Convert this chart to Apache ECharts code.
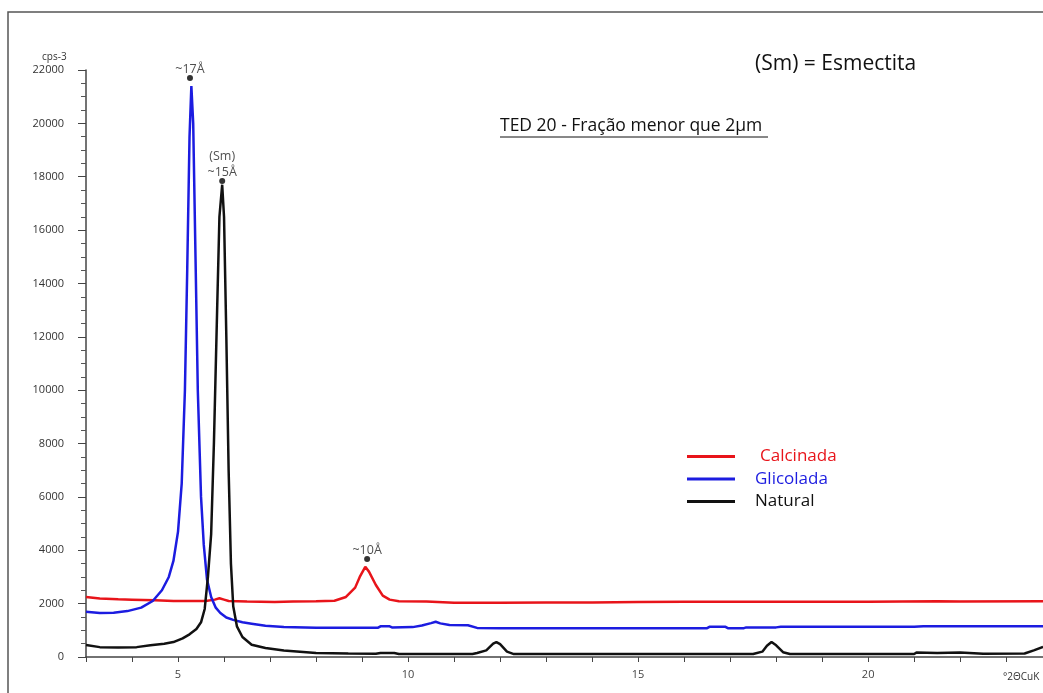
<!DOCTYPE html>
<html>
<head>
<meta charset="utf-8">
<style>
  html, body { margin: 0; padding: 0; background: #fff; }
  #chart { width: 1043px; height: 693px; }
</style>
<script src="https://cdn.jsdelivr.net/npm/echarts@6/dist/echarts.min.js"></script>
</head>
<body>
<div id="chart"></div>
<script>
// difratograma TED 20, pares [°2θ, contagens]
const calcinada = [
  [3.0, 2250], [3.3, 2190], [3.7, 2160], [4.0, 2150], [4.5, 2130], [4.9, 2100],
  [5.6, 2100], [5.8, 2150], [5.9, 2200], [6.0, 2150], [6.1, 2100], [6.5, 2080],
  [7.1, 2060], [7.5, 2080], [8.0, 2090], [8.4, 2110], [8.65, 2250], [8.85, 2600],
  [8.95, 3000], [9.07, 3380], [9.15, 3200], [9.3, 2700], [9.45, 2300], [9.6, 2150],
  [9.8, 2090], [10.4, 2080], [11.0, 2030], [12.0, 2030], [13.0, 2040], [14.0, 2040],
  [15.0, 2060], [16.0, 2070], [20.0, 2070], [21.5, 2090], [22.0, 2080], [23.8, 2090]
];
const glicolada = [
  [3.0, 1700], [3.3, 1650], [3.6, 1660], [3.9, 1720], [4.2, 1850], [4.45, 2100],
  [4.65, 2500], [4.8, 3000], [4.9, 3600], [5.0, 4700], [5.08, 6500], [5.15, 10000],
  [5.2, 14500], [5.25, 19500], [5.29, 21400], [5.33, 20000], [5.38, 15000],
  [5.43, 10000], [5.5, 6000], [5.56, 4200], [5.63, 2900], [5.72, 2250], [5.82, 1850],
  [5.92, 1650], [6.05, 1480], [6.2, 1390], [6.4, 1300], [6.6, 1250], [6.9, 1170],
  [7.3, 1120], [8.0, 1100], [9.35, 1100], [9.4, 1150], [9.6, 1150], [9.65, 1110],
  [10.1, 1120], [10.3, 1180], [10.5, 1270], [10.6, 1320], [10.7, 1260], [10.9, 1200],
  [11.3, 1190], [11.5, 1090], [12.0, 1080], [15.0, 1080], [16.5, 1080], [16.55, 1130],
  [16.9, 1130], [16.95, 1080], [17.3, 1080], [17.35, 1110], [18.0, 1110],
  [18.1, 1130], [21.0, 1130], [21.2, 1150], [23.8, 1150]
];
const natural = [
  [3.0, 450], [3.3, 370], [3.7, 360], [4.1, 370], [4.4, 440], [4.7, 500], [4.9, 560],
  [5.1, 700], [5.25, 850], [5.4, 1050], [5.5, 1300], [5.58, 1800], [5.65, 3000],
  [5.72, 4600], [5.78, 8000], [5.85, 13000], [5.9, 16500], [5.96, 17700], [6.0, 16500],
  [6.05, 12000], [6.1, 7000], [6.15, 3500], [6.2, 1900], [6.28, 1150], [6.4, 750],
  [6.6, 460], [6.9, 340], [7.3, 240], [8.0, 150], [8.7, 130], [9.3, 120], [9.4, 150],
  [9.7, 150], [9.8, 110], [11.4, 110], [11.5, 150], [11.7, 250], [11.85, 500],
  [11.92, 560], [12.0, 480], [12.15, 200], [12.3, 110], [17.5, 110], [17.7, 200],
  [17.8, 420], [17.9, 560], [18.0, 440], [18.15, 180], [18.3, 110], [21.0, 110],
  [21.05, 170], [21.5, 150], [22.0, 170], [22.5, 120], [23.4, 130], [23.6, 250],
  [23.8, 380]
];
// picos identificados
const picosX = [5.26, 5.96, 9.11];
const picosY = [21700, 17840, 3670];
const picosRotulo = ["~17Å", "(Sm)\n~15Å", "~10Å"];

const FONT = "Open Sans";
const chart = echarts.init(document.getElementById("chart"));

const option = {
  animation: false,
  textStyle: { fontFamily: FONT },
  grid: { left: 86, top: 70, right: 0, bottom: 36 },
  legend: {
    orient: "vertical",
    left: 682,
    top: 443,
    itemWidth: 48,
    itemHeight: 3,
    itemGap: 5.5,
    icon: "rect",
    textStyle: { fontSize: 17, lineHeight: 17, padding: [0, 0, 0, 15] },
    data: [
      { name: "Calcinada", textStyle: { color: "#e8141a", padding: [0, 0, 0, 20] } },
      { name: "Glicolada", textStyle: { color: "#1c1ce0" } },
      { name: "Natural", textStyle: { color: "#111" } }
    ]
  },
  xAxis: {
    type: "value",
    min: 3,
    max: 23.8,
    interval: 1,
    splitLine: { show: false },
    axisLine: { lineStyle: { color: "#444", width: 1.5 } },
    axisTick: { length: 5, lineStyle: { color: "#444" } },
    axisLabel: {
      color: "#444",
      fontSize: 11,
      margin: 12,
      showMaxLabel: false,
      formatter: v => (v % 5 === 0 ? String(v) : "")
    }
  },
  yAxis: {
    type: "value",
    min: 0,
    max: 22000,
    interval: 2000,
    splitLine: { show: false },
    axisLine: { show: true, lineStyle: { color: "#444", width: 1.5 } },
    axisTick: { show: true, length: 8, lineStyle: { color: "#444" } },
    minorTick: { show: true, splitNumber: 4, length: 5, lineStyle: { color: "#555" } },
    axisLabel: { color: "#333", fontSize: 11, margin: 22, formatter: v => String(v) }
  },
  series: [
    {
      name: "Calcinada", type: "line", data: calcinada, showSymbol: false,
      color: "#e8141a", lineStyle: { width: 2.5 }, z: 3
    },
    {
      name: "Glicolada", type: "line", data: glicolada, showSymbol: false,
      color: "#1c1ce0", lineStyle: { width: 2.5 }, z: 4
    },
    {
      name: "Natural", type: "line", data: natural, showSymbol: false,
      color: "#111", lineStyle: { width: 2.5 }, z: 5
    },
    {
      name: "picos", type: "scatter", z: 6,
      symbol: "circle", symbolSize: 6,
      itemStyle: { color: "#000" },
      data: picosX.map((x, i) => ({ value: [x, picosY[i]], label: { formatter: picosRotulo[i] } })),
      label: {
        show: true, position: "top", distance: -2,
        color: "#222", fontSize: 12.5, lineHeight: 16
      }
    }
  ],
  graphic: [
    { type: "rect", shape: { x: 8, y: 12, width: 1100, height: 720 },
      style: { fill: "none", stroke: "#555", lineWidth: 1.5 } },
    { type: "text", left: 42, top: 52,
      style: { text: "cps-3", fontSize: 10, fill: "#333", fontFamily: FONT } },
    { type: "text", left: 1003, top: 672,
      style: { text: "°2ΘCuK", fontSize: 10, fill: "#333", fontFamily: FONT } },
    { type: "text", left: 755, top: 54,
      style: { text: "(Sm) = Esmectita", fontSize: 21, fill: "#111", fontFamily: FONT } },
    { type: "text", left: 500, top: 117,
      style: { text: "TED 20 - Fração menor que 2µm", fontSize: 17.5, fill: "#111", fontFamily: FONT } },
    { type: "line", shape: { x1: 500, y1: 137, x2: 768, y2: 137 },
      style: { stroke: "#111", lineWidth: 1 } }
  ]
};

chart.setOption(option);
</script>
</body>
</html>
